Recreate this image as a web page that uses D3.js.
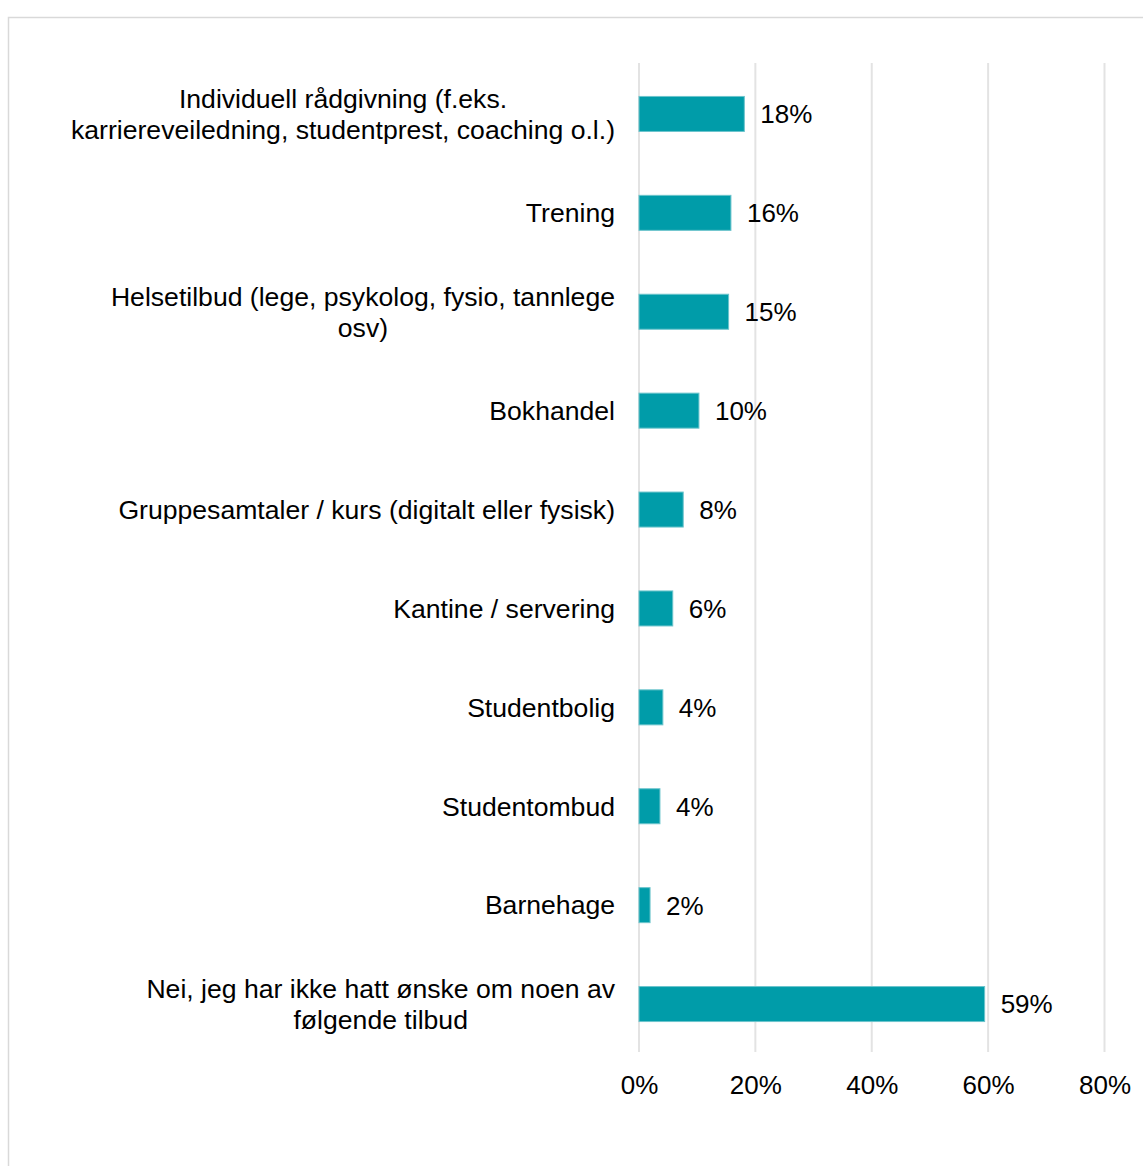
<!DOCTYPE html>
<html>
<head>
<meta charset="utf-8">
<script src="https://cdn.jsdelivr.net/npm/d3@7"></script>
<style>
body{margin:0;background:#fff;}
svg{display:block;font-family:"Liberation Sans",Arial,sans-serif;}
</style>
</head>
<body>
<svg id="chart" width="1143" height="1166"></svg>
<script>
const categories = [
  ["Individuell rådgivning (f.eks.", "karriereveiledning, studentprest, coaching o.l.)"],
  ["Trening"],
  ["Helsetilbud (lege, psykolog, fysio, tannlege", "osv)"],
  ["Bokhandel"],
  ["Gruppesamtaler / kurs (digitalt eller fysisk)"],
  ["Kantine / servering"],
  ["Studentbolig"],
  ["Studentombud"],
  ["Barnehage"],
  ["Nei, jeg har ikke hatt ønske om noen av", "følgende tilbud"]
];
const values = [18.1, 15.8, 15.4, 10.3, 7.6, 5.8, 4.1, 3.6, 1.9, 59.4];
const xTicks = [0, 20, 40, 60, 80];

const svg = d3.select("#chart");
const W = 1143, H = 1166;

// frame
svg.append("rect").attr("x", 8.5).attr("y", 17.5).attr("width", W + 20).attr("height", H + 20)
  .attr("fill", "#fff").attr("stroke", "#d9d9d9").attr("stroke-width", 1.5);

const x = d3.scaleLinear().domain([0, 80]).range([639, 1104.5]);
const keys = categories.map((c, i) => i);
const y = d3.scaleBand().domain(keys).range([64.5, 1053.5]).paddingInner(0.646).paddingOuter(0.323);

// gridlines
svg.append("g").selectAll("line").data(xTicks).join("line")
  .attr("x1", d => x(d)).attr("x2", d => x(d))
  .attr("y1", 63).attr("y2", 1052)
  .attr("stroke", "#e3e3e3").attr("stroke-width", 2);

// x axis labels
const xAxis = d3.axisBottom(x).tickValues(xTicks).tickFormat(d => d + "%").tickSize(0).tickPadding(0);
const gx = svg.append("g").attr("transform", "translate(0,1076)").call(xAxis);
gx.select(".domain").remove();
gx.selectAll("text").attr("font-size", 26).attr("fill", "#000").attr("font-family", "Liberation Sans, Arial, sans-serif");

// bars
svg.append("g").selectAll("rect").data(values).join("rect")
  .attr("x", x(0)).attr("y", (d, i) => y(i))
  .attr("width", d => x(d) - x(0)).attr("height", y.bandwidth())
  .attr("fill", "#009ca9").attr("stroke", "#6cc4cc").attr("stroke-width", 1);

// value labels
svg.append("g").selectAll("text").data(values).join("text")
  .attr("x", d => x(d) + 16).attr("y", (d, i) => y(i) + y.bandwidth() / 2)
  .attr("dy", "0.36em").attr("font-size", 26).attr("fill", "#000")
  .text(d => Math.round(d) + "%");

// category labels
const labelRight = 615;
const lh = 31;
categories.forEach((lines, i) => {
  const cy = y(i) + y.bandwidth() / 2;
  const g = svg.append("g");
  const texts = lines.map((ln, j) => g.append("text")
    .attr("font-size", 26.6).attr("fill", "#000")
    .attr("y", cy + (j - (lines.length - 1) / 2) * lh)
    .attr("dy", "0.35em").text(ln));
  const widths = texts.map(t => t.node().getComputedTextLength());
  const maxW = d3.max(widths);
  const center = labelRight - maxW / 2;
  texts.forEach(t => t.attr("x", center).attr("text-anchor", "middle"));
});
</script>
</body>
</html>
